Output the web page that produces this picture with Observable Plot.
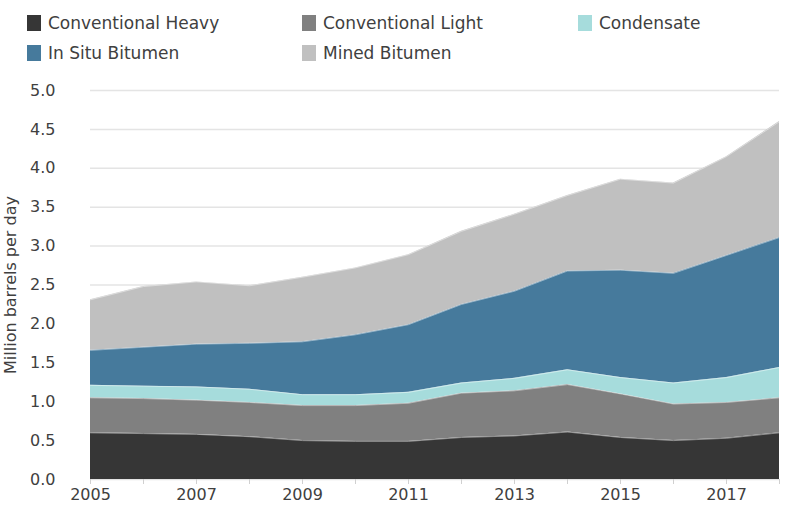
<!DOCTYPE html>
<html>
<head>
<meta charset="utf-8">
<script src="https://cdn.jsdelivr.net/npm/d3@7"></script>
<script src="https://cdn.jsdelivr.net/npm/@observablehq/plot@0.6"></script>
<style>
  html, body { margin: 0; padding: 0; background: #fff; }
  #wrap { position: relative; width: 799px; height: 522px; font-family: "DejaVu Sans", sans-serif; color: #404040; }
  #legend { position: relative; width: 799px; height: 75px; }
  .item { position: absolute; display: flex; align-items: center; font-size: 17px; white-space: nowrap; }
  .sw { width: 14px; height: 16px; margin-right: 7px; }
  svg { display: block; }
</style>
</head>
<body>
<div id="wrap">
  <div id="legend"></div>
  <div id="chart"></div>
</div>
<script>
const years = [2005,2006,2007,2008,2009,2010,2011,2012,2013,2014,2015,2016,2017,2018];
const seriesNames = ["Conventional Heavy","Conventional Light","Condensate","In Situ Bitumen","Mined Bitumen"];
const seriesColors = ["#363636","#808080","#a6dcdc","#467a9c","#c0c0c0"];
const conventionalHeavy = [0.60,0.59,0.58,0.55,0.50,0.49,0.49,0.54,0.56,0.61,0.54,0.50,0.53,0.60];
const conventionalLight = [0.45,0.45,0.44,0.44,0.45,0.46,0.49,0.57,0.58,0.61,0.56,0.47,0.46,0.45];
const condensate        = [0.16,0.16,0.17,0.17,0.14,0.14,0.14,0.13,0.16,0.19,0.21,0.27,0.32,0.39];
const inSituBitumen     = [0.45,0.50,0.55,0.59,0.68,0.77,0.87,1.01,1.12,1.27,1.38,1.41,1.57,1.67];
const minedBitumen      = [0.65,0.78,0.80,0.74,0.83,0.86,0.90,0.94,0.99,0.97,1.17,1.16,1.27,1.49];
const yTicks = [0,0.5,1,1.5,2,2.5,3,3.5,4,4.5,5];
const xLabelTicks = [2005,2007,2009,2011,2013,2015,2017];
const yLabel = "Million barrels per day";

const seriesValues = [conventionalHeavy, conventionalLight, condensate, inSituBitumen, minedBitumen];
const data = [];
seriesNames.forEach((name, i) => {
  years.forEach((yr, j) => data.push({year: yr, series: name, value: seriesValues[i][j]}));
});

// Legend
const legendPos = [[27,24],[302,24],[578,24],[27,54],[302,54]];
const legend = document.getElementById("legend");
seriesNames.forEach((name, i) => {
  const d = document.createElement("div");
  d.className = "item";
  d.style.left = legendPos[i][0] + "px";
  d.style.top = (legendPos[i][1] - 11) + "px";
  d.innerHTML = `<span class="sw" style="background:${seriesColors[i]}"></span><span>${name}</span>`;
  legend.appendChild(d);
});

const chart = Plot.plot({
  width: 799,
  height: 447,
  marginTop: 15,
  marginBottom: 43,
  marginLeft: 90,
  marginRight: 20,
  style: {fontFamily: "DejaVu Sans, sans-serif", fontSize: "16px", color: "#404040", background: "#fff"},
  x: {domain: [2005, 2018]},
  y: {domain: [0, 5]},
  color: {domain: seriesNames, range: seriesColors},
  marks: [
    Plot.ruleY(yTicks, {stroke: "#e4e4e4", strokeWidth: 1.5}),
    Plot.areaY(data, {x: "year", y: "value", z: "series", fill: "series", order: seriesNames}),
    Plot.lineY(data, Plot.stackY2({x: "year", y: "value", z: "series", order: seriesNames, stroke: "#ffffff", strokeOpacity: 0.45, strokeWidth: 1})),
    Plot.axisY({ticks: yTicks, tickSize: 0, tickPadding: 35, tickFormat: d3.format(".1f"), label: null, fill: "#404040"}),
    Plot.axisY({ticks: [], label: yLabel, labelAnchor: "center", labelArrow: "none", labelOffset: 86, fill: "#404040"}),
    Plot.axisX({ticks: years, tickSize: 5, tickFormat: () => "", stroke: "#d0d0d0", label: null}),
    Plot.axisX({ticks: xLabelTicks, tickSize: 0, tickPadding: 9, tickFormat: d => String(d), label: null, fill: "#404040"})
  ]
});
document.getElementById("chart").appendChild(chart);
</script>
</body>
</html>
